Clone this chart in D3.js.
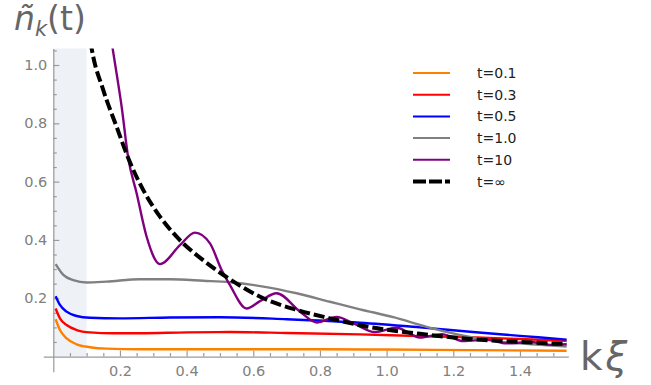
<!DOCTYPE html>
<html>
<head>
<meta charset="utf-8">
<script src="https://cdn.jsdelivr.net/npm/d3@7"></script>
<style>
  body { margin: 0; background: #fff; }
  svg { display: block; font-family: "DejaVu Sans", sans-serif; }
</style>
</head>
<body>
<svg id="chart"></svg>
<script>
// Series data: [kξ, ñ_k(t)]
const t01 = [[0.007,0.128],[0.02,0.091],[0.04,0.062],[0.07,0.042],[0.11,0.032],[0.16,0.027],[0.26,0.025],[0.5,0.025],[0.8,0.025],[1.0,0.024],[1.25,0.022],[1.54,0.02]];
const t03 = [[0.007,0.165],[0.02,0.131],[0.04,0.108],[0.07,0.091],[0.11,0.083],[0.18,0.080],[0.26,0.080],[0.4,0.083],[0.53,0.084],[0.7,0.081],[0.92,0.076],[1.1,0.070],[1.25,0.066],[1.4,0.06],[1.54,0.054]];
const t05 = [[0.007,0.207],[0.02,0.177],[0.04,0.154],[0.07,0.139],[0.11,0.133],[0.2,0.131],[0.35,0.134],[0.5,0.135],[0.7,0.128],[0.92,0.116],[1.1,0.1],[1.25,0.085],[1.4,0.071],[1.54,0.058]];
const t1 = [[0.007,0.317],[0.03,0.28],[0.06,0.262],[0.1,0.254],[0.16,0.257],[0.26,0.265],[0.35,0.265],[0.45,0.26],[0.53,0.255],[0.63,0.24],[0.73,0.217],[0.83,0.188],[0.92,0.162],[1.02,0.135],[1.12,0.102],[1.22,0.074],[1.3,0.057],[1.4,0.045],[1.54,0.034]];
const t10 = [[0.16,1.19],[0.178,1.057],[0.205,0.857],[0.225,0.68],[0.25,0.56],[0.28,0.411],[0.32,0.317],[0.38,0.382],[0.425,0.425],[0.47,0.388],[0.505,0.297],[0.53,0.245],[0.58,0.165],[0.62,0.19],[0.67,0.217],[0.74,0.154],[0.79,0.117],[0.85,0.136],[0.9,0.114],[0.965,0.084],[1.03,0.099],[1.1,0.065],[1.165,0.077],[1.23,0.053],[1.3,0.058],[1.36,0.045],[1.43,0.05],[1.49,0.04],[1.54,0.042]];
const tInf = [[0.105,1.13],[0.115,1.057],[0.15,0.914],[0.19,0.788],[0.225,0.68],[0.27,0.571],[0.32,0.48],[0.37,0.411],[0.45,0.33],[0.53,0.265],[0.63,0.2],[0.73,0.16],[0.83,0.131],[0.94,0.103],[1.1,0.078],[1.25,0.06],[1.4,0.05],[1.54,0.043]];

const seriesNames = ["t=0.1", "t=0.3", "t=0.5", "t=1.0", "t=10", "t=\u221E"];
const seriesData = [t01, t03, t05, t1, t10, tInf];
const seriesColors = ["#ff8000", "#ff0000", "#0000ff", "#808080", "#800080", "#000000"];

const xMajor = [0.2, 0.4, 0.6, 0.8, 1.0, 1.2, 1.4];
const yMajor = [0.2, 0.4, 0.6, 0.8, 1.0];
const shadeEnd = 0.1;

const width = 651, height = 385;

const svg = d3.select("#chart")
  .attr("width", width)
  .attr("height", height);

const x = d3.scaleLinear().domain([-0.03, 1.545]).range([43.3, 568.3]);
const y = d3.scaleLinear().domain([-0.052, 1.057]).range([371.7, 48.4]);

// shaded band near k = 0
svg.append("rect")
  .attr("x", x(0))
  .attr("y", y(1.057))
  .attr("width", x(shadeEnd) - x(0))
  .attr("height", y(0) - y(1.057))
  .attr("fill", "#eef2f7");

// minor ticks every 0.05
const xMinor = d3.range(0.05, 1.54, 0.05).filter(v => !xMajor.some(m => Math.abs(m - v) < 1e-6));
const yMinor = d3.range(0.05, 1.051, 0.05).filter(v => !yMajor.some(m => Math.abs(m - v) < 1e-6));

const axisColor = "#9a9a9a";

const xAxisG = svg.append("g").attr("transform", `translate(0, ${y(0)})`);
xAxisG.call(d3.axisBottom(x).tickValues(xMajor).tickSizeInner(-6).tickSizeOuter(0).tickFormat(d3.format(".1f")));
xAxisG.call(g => g.selectAll(".tick text").attr("y", 9).attr("dy", "0.71em"));
const xMinorG = svg.append("g").attr("transform", `translate(0, ${y(0)})`);
xMinorG.call(d3.axisBottom(x).tickValues(xMinor).tickSizeInner(-3.5).tickSizeOuter(0).tickFormat(""));
xMinorG.select(".domain").remove();

const yAxisG = svg.append("g").attr("transform", `translate(${x(0)}, 0)`);
yAxisG.call(d3.axisLeft(y).tickValues(yMajor).tickSizeInner(-6).tickSizeOuter(0).tickFormat(d3.format(".1f")));
yAxisG.call(g => g.selectAll(".tick text").attr("x", -6));
const yMinorG = svg.append("g").attr("transform", `translate(${x(0)}, 0)`);
yMinorG.call(d3.axisLeft(y).tickValues(yMinor).tickSizeInner(-3.5).tickSizeOuter(0).tickFormat(""));
yMinorG.select(".domain").remove();

svg.selectAll(".domain, .tick line").attr("stroke", axisColor).attr("stroke-width", 1.2);
svg.selectAll(".tick text")
  .attr("fill", "#808080")
  .style("font-family", "DejaVu Sans, sans-serif")
  .style("font-size", "14.5px");

// clip curves to plot area
svg.append("clipPath").attr("id", "plotClip")
  .append("rect")
  .attr("x", x(-0.03)).attr("y", y(1.057))
  .attr("width", x(1.545) - x(-0.03))
  .attr("height", y(-0.052) - y(1.057));

const line = d3.line()
  .x(d => x(d[0]))
  .y(d => y(d[1]))
  .curve(d3.curveMonotoneX);

const curves = svg.append("g").attr("clip-path", "url(#plotClip)");
seriesData.forEach((data, i) => {
  const dashed = i === seriesData.length - 1;
  curves.append("path")
    .datum(data)
    .attr("d", line)
    .attr("fill", "none")
    .attr("stroke", seriesColors[i])
    .attr("stroke-width", dashed ? 4 : 2.4)
    .attr("stroke-dasharray", dashed ? "11,4" : null);
});

// legend
const legend = svg.append("g").attr("transform", "translate(413, 73)");
seriesNames.forEach((name, i) => {
  const dashed = i === seriesNames.length - 1;
  const row = legend.append("g").attr("transform", `translate(0, ${i * 21.7})`);
  row.append("line")
    .attr("x1", 0).attr("x2", 37).attr("y1", 0).attr("y2", 0)
    .attr("stroke", seriesColors[i])
    .attr("stroke-width", dashed ? 4 : 2)
    .attr("stroke-dasharray", dashed ? "13,3" : null);
  row.append("text")
    .attr("x", 64).attr("y", 5)
    .attr("fill", "#222")
    .style("font-size", "14px")
    .text(name);
});

// axis labels
const title = svg.append("text")
  .attr("x", 14).attr("y", 30)
  .attr("fill", "#666")
  .style("font-size", "33px");
title.append("tspan").style("font-style", "italic").text("\u00F1");
title.append("tspan").style("font-style", "italic").style("font-size", "21px").attr("dy", 6).text("k");
title.append("tspan").attr("dy", -6).text("(t)");

svg.append("text")
  .attr("x", 580).attr("y", 370)
  .attr("fill", "#666")
  .style("font-size", "39px")
  .text("k")
  .append("tspan")
  .attr("dx", 3)
  .style("font-style", "italic")
  .text("\u03BE");
</script>
</body>
</html>
